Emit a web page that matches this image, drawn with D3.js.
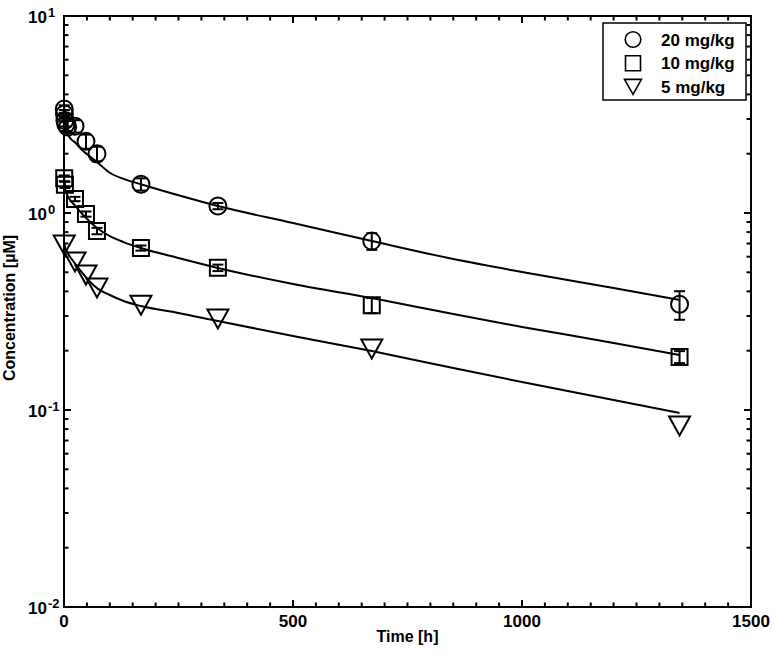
<!DOCTYPE html>
<html>
<head>
<meta charset="utf-8">
<script src="https://cdn.jsdelivr.net/npm/d3@7"></script>
<style>
  html, body { margin: 0; padding: 0; background: #fff; }
  svg text { font-family: "Liberation Sans", Arial, sans-serif; font-weight: bold; fill: #000; }
</style>
</head>
<body>
<div id="diagram"></div>
<script>
!(function () {
  'use strict'
  // - - - - - - - - - -
  // data (time in h, concentration in uM)
  const seriesNames = ['20 mg/kg', '10 mg/kg', '5 mg/kg'];

  const t20 = [0.5, 1, 2, 4, 8, 24, 48, 72, 168, 336, 672, 1344];
  const c20 = [3.37, 3.18, 2.95, 2.81, 2.73, 2.76, 2.31, 2.0, 1.40, 1.085, 0.72, 0.344];
  const sd20 = [0.15, 0.15, 0.2, 0.2, 0.2, 0.2, 0.19, 0.17, 0.1, 0.04, 0.07, 0.057];

  const t10 = [0.5, 2, 24, 48, 72, 168, 336, 672, 1344];
  const c10 = [1.5, 1.39, 1.178, 0.988, 0.81, 0.664, 0.527, 0.34, 0.186];
  const sd10 = [0.05, 0.05, 0.03, 0.03, 0.03, 0.02, 0.02, 0.03, 0.013];

  // 5 mg/kg error bars are hidden inside the markers
  const t5 = [0.5, 24, 48, 72, 168, 336, 672, 1344];
  const c5 = [0.688, 0.564, 0.484, 0.416, 0.34, 0.29, 0.204, 0.083];
  const sd5 = [0, 0, 0, 0, 0, 0, 0, 0];

  // fitted curves
  const fitT = [0, 3, 8, 15, 25, 40, 55, 75, 100, 130, 168, 250, 336, 500, 672, 850, 1000, 1200, 1344];
  const fit20 = [3.1, 2.75, 2.52, 2.38, 2.27, 2.08, 1.95, 1.79, 1.60, 1.49, 1.40, 1.23, 1.085, 0.89, 0.721, 0.584, 0.502, 0.416, 0.362];
  const fit10 = [1.404, 1.308, 1.22, 1.151, 1.085, 0.988, 0.911, 0.829, 0.764, 0.712, 0.664, 0.591, 0.526, 0.436, 0.37, 0.307, 0.264, 0.219, 0.19];
  const fit5 = [0.704, 0.664, 0.627, 0.591, 0.551, 0.496, 0.452, 0.411, 0.3835, 0.3575, 0.337, 0.311, 0.283, 0.2375, 0.1993, 0.1633, 0.1387, 0.1124, 0.0966];

  const xTicks = [0, 500, 1000, 1500];
  const yDecades = [-2, -1, 0, 1];

  // layout
  const canvas = { width: 774, height: 654 };
  const plot = { left: 64, right: 751, top: 16, bottom: 607 };

  const series = [
    { name: seriesNames[0], shape: 'circle', t: t20, c: c20, sd: sd20, fit: fit20 },
    { name: seriesNames[1], shape: 'square', t: t10, c: c10, sd: sd10, fit: fit10 },
    { name: seriesNames[2], shape: 'triangle', t: t5, c: c5, sd: sd5, fit: fit5 }
  ];

  const svg = d3.select('#diagram')
    .append('svg')
    .attr('width', canvas.width)
    .attr('height', canvas.height);

  const xScale = d3.scaleLinear().domain([0, 1500]).range([plot.left, plot.right]);
  const yScale = d3.scaleLog().domain([0.01, 10]).range([plot.bottom, plot.top]);

  // marker path (centred on 0,0)
  const markerPath = function (shape, s) {
    if (shape === 'circle') {
      const r = s.r;
      return 'M' + (-r) + ',0A' + r + ',' + r + ' 0 1,0 ' + r + ',0A' + r + ',' + r + ' 0 1,0 ' + (-r) + ',0Z';
    }
    if (shape === 'square') {
      const h = s.sq / 2;
      return 'M' + (-h) + ',' + (-h) + 'H' + h + 'V' + h + 'H' + (-h) + 'Z';
    }
    const w = s.tw / 2, hh = s.th / 2;
    return 'M' + (-w) + ',' + (-hh) + 'H' + w + 'L0,' + hh + 'Z';
  };
  const plotSize = { r: 8.5, sq: 16, tw: 21, th: 19 };
  const legendSize = { r: 7.8, sq: 15, tw: 17, th: 15 };

  // axes: ticks point inward on all four sides
  const minorX = d3.range(0, 1501, 50);
  const minorY = [];
  yDecades.slice(0, -1).forEach(function (e) {
    for (let k = 2; k <= 9; k++) minorY.push(k * Math.pow(10, e));
  });

  const axes = svg.append('g').attr('stroke', '#000').attr('stroke-width', 2);
  axes.append('rect')
    .attr('x', plot.left).attr('y', plot.top)
    .attr('width', plot.right - plot.left).attr('height', plot.bottom - plot.top)
    .attr('fill', 'none');

  const tickLen = function (major) { return major ? 7 : 4.5; };

  minorX.forEach(function (v) {
    const major = v % 500 === 0, x = xScale(v), l = tickLen(major);
    axes.append('line').attr('x1', x).attr('x2', x).attr('y1', plot.bottom).attr('y2', plot.bottom - l);
    axes.append('line').attr('x1', x).attr('x2', x).attr('y1', plot.top).attr('y2', plot.top + l);
  });
  yDecades.map(function (e) { return Math.pow(10, e); }).concat(minorY).forEach(function (v, i) {
    const major = i < yDecades.length, y = yScale(v), l = tickLen(major);
    axes.append('line').attr('y1', y).attr('y2', y).attr('x1', plot.left).attr('x2', plot.left + l);
    axes.append('line').attr('y1', y).attr('y2', y).attr('x1', plot.right).attr('x2', plot.right - l);
  });

  // tick labels
  svg.selectAll('.xlab')
    .data(xTicks)
    .enter()
    .append('text')
    .attr('x', function (d) { return xScale(d); })
    .attr('y', plot.bottom + 20)
    .attr('text-anchor', 'middle')
    .attr('font-size', 17)
    .text(function (d) { return d; });

  yDecades.forEach(function (e) {
    const y = yScale(Math.pow(10, e));
    svg.append('text')
      .attr('x', 47).attr('y', y + 6.5)
      .attr('text-anchor', 'end')
      .attr('font-size', 17)
      .text('10');
    svg.append('text')
      .attr('x', 48).attr('y', y + 0.5)
      .attr('font-size', 13)
      .text(String(e));
  });

  // axis titles
  svg.append('text')
    .attr('x', (plot.left + plot.right) / 2)
    .attr('y', 642)
    .attr('text-anchor', 'middle')
    .attr('font-size', 16)
    .text('Time [h]');

  svg.append('text')
    .attr('transform', 'translate(15,308) rotate(-90)')
    .attr('text-anchor', 'middle')
    .attr('font-size', 16)
    .text('Concentration [\u00b5M]');

  // fitted curves
  const line = d3.line()
    .x(function (d) { return xScale(d[0]); })
    .y(function (d) { return yScale(d[1]); })
    .curve(d3.curveMonotoneX);

  series.forEach(function (s) {
    svg.append('path')
      .datum(fitT.map(function (t, i) { return [t, s.fit[i]]; }))
      .attr('d', line)
      .attr('fill', 'none')
      .attr('stroke', '#000')
      .attr('stroke-width', 2);
  });

  // error bars and markers
  series.forEach(function (s) {
    const pts = s.t.map(function (t, i) { return { t: t, c: s.c[i], sd: s.sd[i] }; });
    const g = svg.append('g').attr('stroke', '#000').attr('stroke-width', 2).attr('fill', 'none');

    const eb = g.selectAll('.eb').data(pts.filter(function (d) { return d.sd > 0; })).enter().append('g');
    eb.append('line')
      .attr('x1', function (d) { return xScale(d.t); })
      .attr('x2', function (d) { return xScale(d.t); })
      .attr('y1', function (d) { return yScale(d.c + d.sd); })
      .attr('y2', function (d) { return yScale(d.c - d.sd); });
    [1, -1].forEach(function (sign) {
      eb.append('line')
        .attr('x1', function (d) { return xScale(d.t) - 5.5; })
        .attr('x2', function (d) { return xScale(d.t) + 5.5; })
        .attr('y1', function (d) { return yScale(d.c + sign * d.sd); })
        .attr('y2', function (d) { return yScale(d.c + sign * d.sd); });
    });

    g.selectAll('.mk').data(pts).enter().append('path')
      .attr('d', markerPath(s.shape, plotSize))
      .attr('transform', function (d) { return 'translate(' + xScale(d.t) + ',' + yScale(d.c) + ')'; });
  });

  // legend
  const legend = svg.append('g');
  legend.append('rect')
    .attr('x', 603).attr('y', 23).attr('width', 143).attr('height', 77)
    .attr('fill', '#fff').attr('stroke', '#000').attr('stroke-width', 1.5);
  series.forEach(function (s, i) {
    const cy = 39.5 + i * 23.7;
    legend.append('path')
      .attr('d', markerPath(s.shape, legendSize))
      .attr('transform', 'translate(633,' + cy + ')')
      .attr('fill', 'none').attr('stroke', '#000').attr('stroke-width', 1.6);
    legend.append('text')
      .attr('x', 661).attr('y', cy + 6)
      .attr('font-size', 17)
      .text(s.name);
  });
  // - - - - - - - - - -
}())
</script>
</body>
</html>
